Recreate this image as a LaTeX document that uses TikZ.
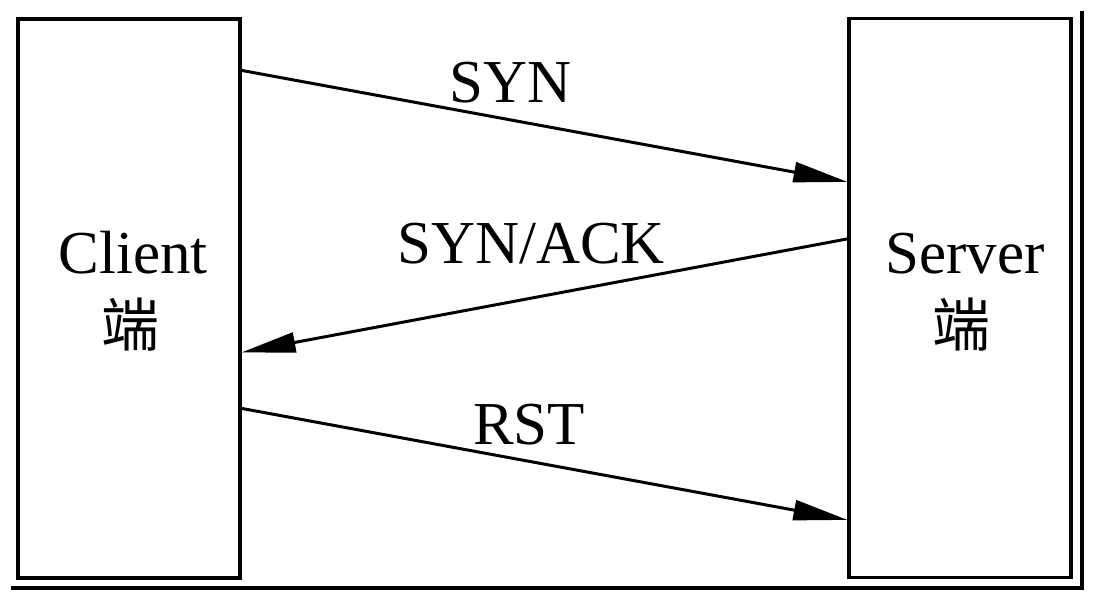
\documentclass[tikz,border=0pt]{standalone}
\usepackage{fontspec}
\setmainfont{Liberation Serif}
\newfontfamily\cjk{Noto Sans CJK SC}
\usetikzlibrary{arrows.meta}
\begin{document}
\begin{tikzpicture}[x=1pt,y=-1pt,
  hostbox/.style={draw=black,line width=3.2pt,minimum width=222pt,minimum height=559pt,inner sep=0pt},
  lbl/.style={font=\fontsize{61}{70}\selectfont,inner sep=0pt,anchor=base},
  zh/.style={font=\cjk\fontsize{58}{66}\selectfont,inner sep=0pt,anchor=center},
  msg/.style={line width=3pt,-{Triangle[length=54pt,width=20pt]}},
  frame/.style={line width=3.2pt}]
\useasboundingbox (0,0) rectangle (1108,606);
\node[hostbox] (client) at (129,298.5) {};
\node[hostbox] (server) at (960,298) {};
\node[lbl] (clienttxt) at (133,273) {Client};
\node[zh] (clientzh) at (130,325) {端};
\node[lbl] (servertxt) at (965,273) {Server};
\node[zh] (serverzh) at (961,325) {端};
\node[lbl] (syn) at (511,102) {SYN};
\node[lbl] (synack) at (531,263) {SYN/ACK};
\node[lbl] (rst) at (529,444) {RST};
\draw[msg] ([yshift=-53pt]client.north east) -- ([yshift=-165pt]server.north west);
\draw[msg] ([yshift=-222pt]server.north west) -- ([yshift=-335pt]client.north east);
\draw[msg] ([yshift=-391pt]client.north east) -- ([yshift=-503pt]server.north west);
\coordinate (ftop) at (1082,11);
\coordinate (fcorner) at (1082,588);
\coordinate (fleft) at (11,588);
\draw[frame] (ftop) -- (fcorner) -- (fleft);
\end{tikzpicture}
\end{document}
